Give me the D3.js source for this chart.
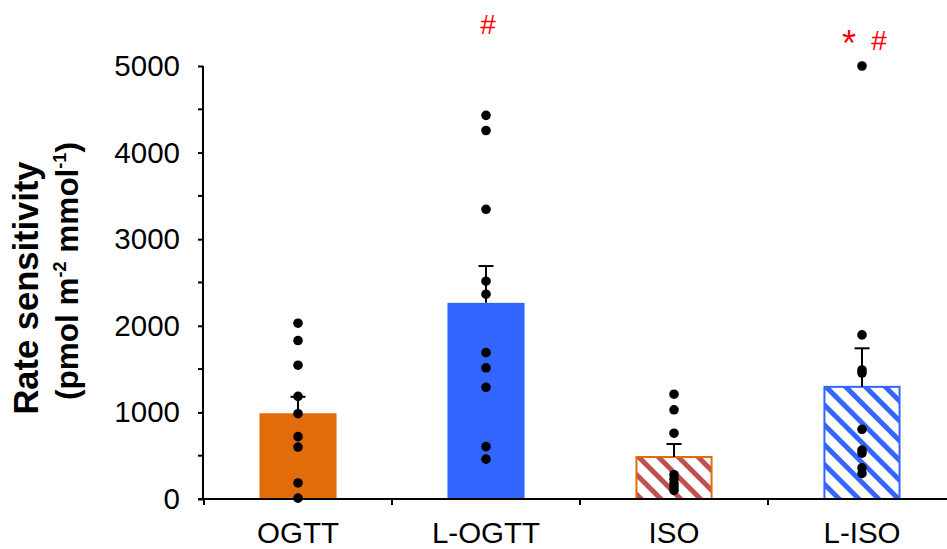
<!DOCTYPE html>
<html>
<head>
<meta charset="utf-8">
<script src="https://cdn.jsdelivr.net/npm/d3@7"></script>
<style>
  html, body { margin: 0; padding: 0; background: #fff; }
  svg { display: block; font-family: "Liberation Sans", Arial, sans-serif; }
</style>
</head>
<body>
<svg id="chart" width="947" height="549"></svg>
<script>
// Group labels, group means and SEM
const categories = ["OGTT", "L-OGTT", "ISO", "L-ISO"];
const means = [990, 2265, 485, 1295];
const sems = [190, 425, 150, 445];

// Individual subject values per group
const pointsOGTT = [2030, 1830, 1545, 1185, 985, 720, 600, 185, 10];
const pointsLOGTT = [4430, 4255, 3345, 2515, 2365, 1690, 1515, 1290, 605, 460];
const pointsISO = [1210, 1030, 760, 280, 230, 180, 140, 100];
const pointsLISO = [5000, 1895, 1490, 1455, 805, 565, 530, 360, 295];
const points = [pointsOGTT, pointsLOGTT, pointsISO, pointsLISO];

// Significance marks above groups (offset from group centre)
const marks = [
  { cat: "L-OGTT", text: "#", dx: 2, baseline: 34, size: 28 },
  { cat: "L-ISO", text: "*", dx: -13, baseline: 56, size: 36 },
  { cat: "L-ISO", text: "#", dx: 17, baseline: 50, size: 28 }
];

const yTicks = [0, 1000, 2000, 3000, 4000, 5000];
const yMinorTicks = [500, 1500, 2500, 3500, 4500];

const styles = {
  "OGTT":   { fill: "#E36C0A", stroke: "none" },
  "L-OGTT": { fill: "#3366FF", stroke: "none" },
  "ISO":    { fill: "url(#hatch-iso)", stroke: "#E36C0A" },
  "L-ISO":  { fill: "url(#hatch-liso)", stroke: "#3366FF" }
};

const svg = d3.select("#chart");

const x = d3.scaleBand()
  .domain(categories)
  .range([204, 956])
  .paddingInner(0.59)
  .paddingOuter(0.295);

const y = d3.scaleLinear().domain([0, 5000]).range([499, 66]);

// Diagonal hatch patterns
const defs = svg.append("defs");
[["hatch-iso", "#C0504D"], ["hatch-liso", "#3366FF"]].forEach(([id, color]) => {
  const p = defs.append("pattern")
    .attr("id", id)
    .attr("patternUnits", "userSpaceOnUse")
    .attr("width", 14).attr("height", 14)
    .attr("patternTransform", "rotate(-45)");
  p.append("rect").attr("width", 14).attr("height", 14).attr("fill", "#fff");
  p.append("rect").attr("width", 5).attr("height", 14).attr("fill", color);
});

// Bars
svg.append("g").selectAll("rect")
  .data(categories)
  .join("rect")
  .attr("x", d => x(d) + (styles[d].stroke !== "none" ? 1 : 0))
  .attr("width", d => x.bandwidth() - (styles[d].stroke !== "none" ? 2 : 0))
  .attr("y", (d, i) => y(means[i]))
  .attr("height", (d, i) => y(0) - y(means[i]))
  .attr("fill", d => styles[d].fill)
  .attr("stroke", d => styles[d].stroke)
  .attr("stroke-width", 2);

// Error bars (upper only)
const err = svg.append("g").attr("stroke", "#000").attr("stroke-width", 2);
categories.forEach((c, i) => {
  const cx = x(c) + x.bandwidth() / 2;
  err.append("line")
    .attr("x1", cx).attr("x2", cx)
    .attr("y1", y(means[i])).attr("y2", y(means[i] + sems[i]));
  err.append("line")
    .attr("x1", cx - 7.5).attr("x2", cx + 7.5)
    .attr("y1", y(means[i] + sems[i])).attr("y2", y(means[i] + sems[i]));
});

// Individual points
const dots = svg.append("g");
categories.forEach((c, i) => {
  const cx = x(c) + x.bandwidth() / 2;
  dots.selectAll(null)
    .data(points[i])
    .join("circle")
    .attr("cx", cx)
    .attr("cy", d => y(d))
    .attr("r", 4.8)
    .attr("fill", "#000");
});

// Y axis
const yAxis = svg.append("g")
  .attr("transform", `translate(${x.range()[0] - 1},0)`)
  .call(d3.axisLeft(y).tickValues(yTicks).tickSize(5).tickPadding(18).tickFormat(d3.format("d")));
yAxis.select(".domain").attr("stroke-width", 2).attr("d", `M0,${y(5000)}V${y(0)}`);
yAxis.selectAll(".tick line").attr("stroke-width", 2);
yAxis.selectAll("text").attr("font-size", 29.5).attr("fill", "#000")
  .attr("font-family", "Liberation Sans, Arial, sans-serif");
yAxis.selectAll(".minor").data(yMinorTicks).join("line")
  .attr("class", "minor")
  .attr("x1", -5).attr("x2", 0)
  .attr("y1", d => y(d)).attr("y2", d => y(d))
  .attr("stroke", "#000").attr("stroke-width", 2);

// X axis
const xAxis = svg.append("g")
  .attr("transform", `translate(0,${y(0)})`)
  .call(d3.axisBottom(x).tickSize(0).tickPadding(23));
xAxis.select(".domain").attr("stroke-width", 2).attr("d", `M${x.range()[0] - 6},0H947`);
xAxis.selectAll("text").attr("font-size", 29.5).attr("fill", "#000")
  .attr("font-family", "Liberation Sans, Arial, sans-serif");
xAxis.selectAll(".sep").data(categories).join("line")
  .attr("class", "sep")
  .attr("x1", d => x(d) - x.step() * x.paddingOuter())
  .attr("x2", d => x(d) - x.step() * x.paddingOuter())
  .attr("y1", 0).attr("y2", 6)
  .attr("stroke", "#000").attr("stroke-width", 2);

// Significance marks
svg.append("g").selectAll("text")
  .data(marks)
  .join("text")
  .attr("x", d => x(d.cat) + x.bandwidth() / 2 + d.dx)
  .attr("y", d => d.baseline)
  .attr("text-anchor", "middle")
  .attr("font-size", d => d.size)
  .attr("fill", "#FF0000")
  .text(d => d.text);

// Y axis title
const title = svg.append("g").attr("font-weight", "bold").attr("fill", "#000");
title.append("text")
  .attr("transform", "translate(38,288) rotate(-90)")
  .attr("text-anchor", "middle")
  .attr("font-size", 34.5)
  .text("Rate sensitivity");
const t2 = title.append("text")
  .attr("transform", "translate(78,271) rotate(-90)")
  .attr("text-anchor", "middle")
  .attr("font-size", 31.5);
t2.append("tspan").text("(pmol m");
t2.append("tspan").attr("font-size", 18).attr("dy", -12).text("-2");
t2.append("tspan").attr("dy", 12).text(" mmol");
t2.append("tspan").attr("font-size", 18).attr("dy", -12).text("-1");
t2.append("tspan").attr("dy", 12).text(")");
</script>
</body>
</html>
